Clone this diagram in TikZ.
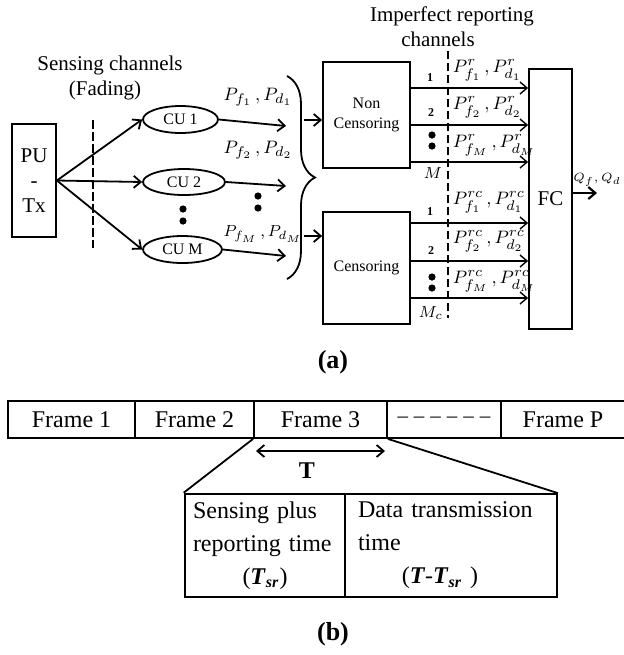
\documentclass[tikz,border=0pt]{standalone}
\usepackage[no-math]{fontspec}
\setmainfont{Liberation Serif}
\usetikzlibrary{shapes.geometric,arrows.meta,decorations.pathreplacing}
\tikzset{>={Straight Barb[length=3.5pt,width=6pt]},
  blk/.style={draw, rectangle, inner sep=0pt, align=center},
  cu/.style={draw, ellipse, inner sep=0pt, font=\fontsize{8}{9}\selectfont},
  num/.style={font=\fontsize{6}{7}\selectfont\bfseries},
  plab/.style={font=\fontsize{9.5}{11}\selectfont},
  rlab/.style={anchor=west, inner sep=0pt, font=\fontsize{9.5}{11}\selectfont},
  frm/.style={draw, rectangle, minimum height=18.5pt, inner sep=0pt, font=\fontsize{12}{14}\selectfont},
  rep/.style={->, line width=0.7pt},
  sep/.style={line width=0.6pt, dash pattern=on 4.5pt off 1.5pt}}

\begin{document}
\begin{tikzpicture}[x=0.5pt,y=-0.5pt,line width=0.9pt,font=\fontsize{10.5}{12.5}\selectfont]
   \useasboundingbox (0,0) rectangle (623,655);
   \begin{scope}
    \node[align=center] (sc) at (110,78) {Sensing channels\\(Fading)\hspace*{5pt}};
    \node[align=center] (irc) at (452,27) {Imperfect reporting\\channels\hspace*{14pt}};
    \node[blk, minimum width=22pt, minimum height=56.5pt] (pu) at (34,180.5) {PU\\-\\Tx};
    \draw[sep] (93,120) -- (93,248);
    \node[cu, minimum width=37.5pt, minimum height=13.5pt] (cu1) at (180.5,119.5) {CU 1};
    \node[cu, minimum width=41pt,   minimum height=13pt]   (cu2) at (184,182)     {CU 2};
    \node[cu, minimum width=39.5pt, minimum height=13.5pt] (cum) at (182.5,249.5) {CU M};
    \draw[->] (pu.east) -- (cu1.west);
    \draw[->] (pu.east) -- (cu2.west);
    \draw[->] (pu.east) -- (cum.west);
    \fill (183,209) circle (1.8pt);
    \fill (183,221) circle (1.8pt);
    \coordinate (o1) at (286,126);
    \coordinate (o2) at (286,186);
    \coordinate (om) at (286,256);
    \draw[->] (cu1.east) -- (o1);
    \draw[->] (cu2.east) -- (o2);
    \draw[->] (cum.east) -- (om);
    \node[plab] (p1) at (258,97)  {$P_{f_1}\,,P_{d_1}$};
    \node[plab] (p2) at (258,150) {$P_{f_2}\,,P_{d_2}$};
    \node[plab, font=\fontsize{8.5}{10}\selectfont] (pm) at (263,234) {$P_{f_M}\,,P_{d_M}$};
    \fill (258,196) circle (1.8pt);
    \fill (258,208) circle (1.8pt);
    \draw[decorate, decoration={brace, amplitude=14pt}] (287,76) -- (287,279);
    \node[blk, minimum width=43.5pt, minimum height=53pt, font=\fontsize{8}{10}\selectfont] (nc) at (366.5,115) {Non\\Censoring};
    \node[blk, minimum width=43.5pt, minimum height=56pt, font=\fontsize{8}{10}\selectfont] (cens) at (366.5,268) {Censoring};
    \node[blk, minimum width=21.5pt, minimum height=130pt] (fc) at (550.5,199) {FC};
    \coordinate (b1) at (304,120);
    \coordinate (b2) at (304,236);
    \draw[->] (b1) -- (nc.west |- b1);
    \draw[->] (b2) -- (cens.west |- b2);
    \draw[rep] (nc.east |- 0,88)  -- (fc.west |- 0,88);
    \draw[rep] (nc.east |- 0,125) -- (fc.west |- 0,125);
    \draw[rep] (nc.east |- 0,162) -- (fc.west |- 0,162);
    \draw[rep] (cens.east |- 0,223) -- (fc.west |- 0,223);
    \draw[rep] (cens.east |- 0,261) -- (fc.west |- 0,261);
    \draw[rep] (cens.east |- 0,298) -- (fc.west |- 0,298);
    \draw[sep, dash pattern=on 4pt off 2pt] (448,51) -- (448,318);
    \node[num] (n1) at (430,78)  {1};
    \node[num] (n2) at (431,113) {2};
    \fill (432,135) circle (1.8pt);
    \fill (432,146) circle (1.8pt);
    \node[font=\fontsize{8.5}{10}\selectfont] (m) at (433,173) {$M$};
    \node[num] (n3) at (430,212) {1};
    \node[num] (n4) at (431,251) {2};
    \fill (432,277) circle (1.8pt);
    \fill (432,288) circle (1.8pt);
    \node[font=\fontsize{8.5}{10}\selectfont] (mc) at (431,313) {$M_c$};
    \node[rlab] (r1) at (452,70)  {$P^{r}_{f_1}\,,P^{r}_{d_1}$};
    \node[rlab] (r2) at (452,107) {$P^{r}_{f_2}\,,P^{r}_{d_2}$};
    \node[rlab] (r3) at (452,145) {$P^{r}_{f_M}\,,P^{r}_{d_M}$};
    \node[rlab] (s1) at (452,202) {$P^{rc}_{f_1}\,,P^{rc}_{d_1}$};
    \node[rlab] (s2) at (452,241) {$P^{rc}_{f_2}\,,P^{rc}_{d_2}$};
    \node[rlab] (s3) at (452,281) {$P^{rc}_{f_M}\,,P^{rc}_{d_M}$};
    \coordinate (qo) at (597,193);
    \draw[->, line width=1.1pt] (fc.east |- qo) -- (qo);
    \node[anchor=east, inner sep=0pt, font=\fontsize{6.5}{8}\selectfont] (q) at (622,180) {$Q_f,Q_d$};
    \node[font=\fontsize{13}{15}\selectfont\bfseries] (capa) at (333,362) {(a)};
   \end{scope}
   \begin{scope}
    \node[frm, minimum width=63.5pt] (f1) at (71.5,419.5)  {Frame 1};
    \node[frm, minimum width=59.5pt] (f2) at (194.5,419.5) {Frame 2};
    \node[frm, minimum width=66.5pt] (f3) at (320.5,419.5) {Frame 3};
    \node[frm, minimum width=57pt, font=\fontsize{10.5}{14}\selectfont] (f4) at (444,419.5)
      {–\kern3pt–\kern3pt–\kern3pt–\kern3pt–\kern3pt–};
    \node[frm, minimum width=62pt]   (f5) at (563,419.5)   {Frame P};
    \coordinate (ta) at (256,451);
    \coordinate (tb) at (385,451);
    \draw[<->] (ta) -- (tb);
    \node[font=\fontsize{12}{14}\selectfont\bfseries] (t) at (307,471) {T};
    \node[blk, minimum width=106pt, minimum height=51.5pt, text width=93pt, align=left,
          font=\fontsize{12}{16.5}\selectfont] (dt) at (451,545.5)
      {Data transmission\\time\\\hbox to 93pt{\hfil(\textbf{\textit{T}}-\textbf{\textit{T}}\textsubscript{\textbf{\textit{sr}}} )\hfil\hspace{11pt}}};
    \node[blk, line width=1.3pt, minimum width=80pt, minimum height=51.5pt, text width=72pt, align=left,
          font=\fontsize{12}{16.5}\selectfont] (sr) at (265,545.5)
      {Sensing plus\\reporting time\\\hbox to 72pt{\hfil(\textbf{\textit{T}}\textsubscript{\textbf{\textit{sr}}})\hfil}};
    \draw (f3.south west) -- (sr.north west);
    \draw (f3.south east) -- (dt.north east);
    \node[font=\fontsize{13}{15}\selectfont\bfseries] (capb) at (333,634) {(b)};
   \end{scope}
\end{tikzpicture}
\end{document}
